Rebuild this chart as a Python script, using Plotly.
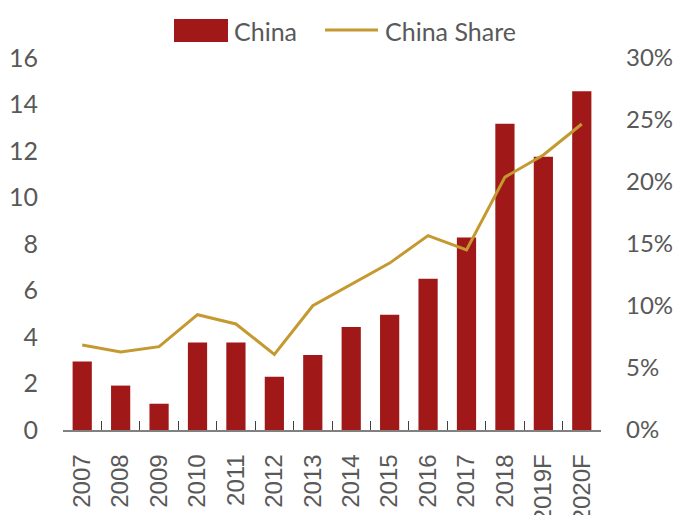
import plotly.graph_objects as go

# China volume (left axis) and China share (right axis), 2007-2020F
years = ["2007", "2008", "2009", "2010", "2011", "2012", "2013",
         "2014", "2015", "2016", "2017", "2018", "2019F", "2020F"]
china_volume = [2.95, 1.91, 1.13, 3.76, 3.76, 2.29, 3.23,
                4.43, 4.96, 6.51, 8.28, 13.17, 11.75, 14.57]
china_share = [0.0686, 0.0630, 0.0672, 0.0930, 0.0855, 0.0610, 0.1002,
               0.1171, 0.1346, 0.1568, 0.1453, 0.2039, 0.2218, 0.2468]

left_ticks = [0, 2, 4, 6, 8, 10, 12, 14, 16]
right_ticks = [0, 0.05, 0.10, 0.15, 0.20, 0.25, 0.30]

BAR_COLOR = "#A01818"
LINE_COLOR = "#C49A30"
TEXT_COLOR = "#595959"
LABEL_FONT = "Lato, 'Open Sans', sans-serif"
CAT_FONT = "'Liberation Sans', Arial, sans-serif"

fig = go.Figure()

fig.add_trace(go.Bar(
    x=years, y=china_volume, name="China",
    marker=dict(color=BAR_COLOR, line=dict(width=0)),
    yaxis="y", showlegend=False,
))

fig.add_trace(go.Scatter(
    x=years, y=china_share, name="China Share", mode="lines",
    line=dict(color=LINE_COLOR, width=3),
    yaxis="y2", showlegend=False,
))

# Legend drawn above the plot: red swatch + gold line swatch
fig.add_shape(type="rect", xref="paper", yref="paper",
              x0=0.2063, x1=0.3067, y0=1.0430, y1=1.1047,
              fillcolor=BAR_COLOR, line=dict(width=0))
fig.add_annotation(text="China", xref="paper", yref="paper",
                   x=0.3140, y=1.0738, xanchor="left", yanchor="middle",
                   showarrow=False, font=dict(family=LABEL_FONT, size=25, color=TEXT_COLOR))
fig.add_shape(type="line", xref="paper", yref="paper",
              x0=0.487, x1=0.5855, y0=1.0752, y1=1.0752,
              line=dict(color=LINE_COLOR, width=3))
fig.add_annotation(text="China Share", xref="paper", yref="paper",
                   x=0.5948, y=1.0738, xanchor="left", yanchor="middle",
                   showarrow=False, font=dict(family=LABEL_FONT, size=25, color=TEXT_COLOR))

fig.update_layout(
    width=677, height=515,
    margin=dict(l=63, r=76, t=58, b=84.5, autoexpand=False),
    paper_bgcolor="white", plot_bgcolor="white",
    bargap=0.5,
    xaxis=dict(
        type="category", tickangle=-90,
        showline=True, linecolor="#808080", linewidth=1.5,
        ticks="inside", tickson="boundaries", ticklen=9,
        tickcolor="#404040", tickwidth=1.2,
        tickfont=dict(family=CAT_FONT, size=24, color=TEXT_COLOR),
        ticklabelstandoff=13,
        showgrid=False, zeroline=False,
    ),
    yaxis=dict(
        range=[0, 16], tickvals=left_ticks,
        tickfont=dict(family=LABEL_FONT, size=25, color=TEXT_COLOR),
        showgrid=False, zeroline=False, showline=False,
        ticks="", ticklabelstandoff=24,
    ),
    yaxis2=dict(
        range=[0, 0.30], tickvals=right_ticks, tickformat=".0%",
        overlaying="y", side="right",
        tickfont=dict(family=LABEL_FONT, size=24, color=TEXT_COLOR),
        showgrid=False, zeroline=False, showline=False,
        ticks="", ticklabelstandoff=24,
    ),
)

fig.write_html("out.html")
